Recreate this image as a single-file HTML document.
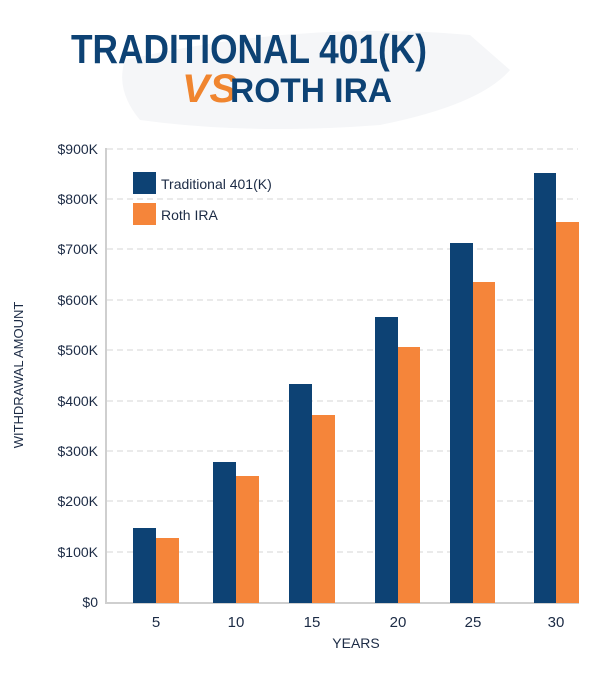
<!DOCTYPE html>
<html><head><meta charset="utf-8"><style>
body{margin:0;background:#fff;}
svg text{font-family:"Liberation Sans",sans-serif;}
</style></head><body>
<svg width="602" height="670" viewBox="0 0 602 670" xmlns="http://www.w3.org/2000/svg">
<path d="M125 60 Q300 20 470 35 L510 70 Q480 105 380 125 Q250 135 140 120 Q115 90 125 60Z" fill="#f5f6f8"/>
<text x="71" y="63" font-size="41" font-weight="bold" fill="#0d4274" textLength="356" lengthAdjust="spacingAndGlyphs">TRADITIONAL 401(K)</text>
<text x="182" y="102" font-size="40" font-weight="bold" font-style="italic" fill="#f0852f" textLength="55" lengthAdjust="spacingAndGlyphs">VS</text>
<text x="230" y="102" font-size="34" font-weight="bold" fill="#0d4274" textLength="162" lengthAdjust="spacingAndGlyphs">ROTH IRA</text>
<g stroke="#d4d4d4" stroke-dasharray="6,4" stroke-width="1">
<line x1="107" x2="578" y1="149" y2="149"/><line x1="107" x2="578" y1="199" y2="199"/>
<line x1="107" x2="578" y1="249" y2="249"/><line x1="107" x2="578" y1="300" y2="300"/>
<line x1="107" x2="578" y1="350" y2="350"/><line x1="107" x2="578" y1="401" y2="401"/>
<line x1="107" x2="578" y1="451" y2="451"/><line x1="107" x2="578" y1="501" y2="501"/>
<line x1="107" x2="578" y1="552" y2="552"/>
</g>
<line x1="106" y1="148" x2="106" y2="604" stroke="#cfcfcf" stroke-width="2"/>
<line x1="105" y1="603" x2="579" y2="603" stroke="#cfcfcf" stroke-width="2"/>
<g font-size="14" fill="#1c2b45" text-anchor="end">
<text x="98" y="154">$900K</text><text x="98" y="204">$800K</text><text x="98" y="254">$700K</text>
<text x="98" y="305">$600K</text><text x="98" y="355">$500K</text><text x="98" y="406">$400K</text>
<text x="98" y="456">$300K</text><text x="98" y="506">$200K</text><text x="98" y="557">$100K</text>
<text x="98" y="607">$0</text>
</g>
<text transform="translate(23,375) rotate(-90)" font-size="13" fill="#1c2b45" text-anchor="middle">WITHDRAWAL AMOUNT</text>
<g fill="#0d4274">
<rect x="133" y="528" width="23" height="75"/><rect x="213" y="462" width="23" height="141"/>
<rect x="289" y="384" width="23" height="219"/><rect x="375" y="317" width="23" height="286"/>
<rect x="450" y="243" width="23" height="360"/><rect x="534" y="173" width="22" height="430"/>
<rect x="133" y="172" width="23" height="22"/>
</g>
<g fill="#f5853a">
<rect x="156" y="538" width="23" height="65"/><rect x="236" y="476" width="23" height="127"/>
<rect x="312" y="415" width="23" height="188"/><rect x="398" y="347" width="22" height="256"/>
<rect x="473" y="282" width="22" height="321"/><rect x="556" y="222" width="23" height="381"/>
<rect x="133" y="203" width="23" height="22"/>
</g>
<text x="161" y="189" font-size="14" fill="#1c2b45">Traditional 401(K)</text>
<text x="161" y="220" font-size="14" fill="#1c2b45">Roth IRA</text>
<g font-size="15" fill="#1c2b45" text-anchor="middle">
<text x="156" y="627">5</text><text x="236" y="627">10</text><text x="312" y="627">15</text>
<text x="398" y="627">20</text><text x="473" y="627">25</text><text x="556" y="627">30</text>
</g>
<text x="356" y="648" font-size="14" fill="#1c2b45" text-anchor="middle">YEARS</text>
</svg>
</body></html>
